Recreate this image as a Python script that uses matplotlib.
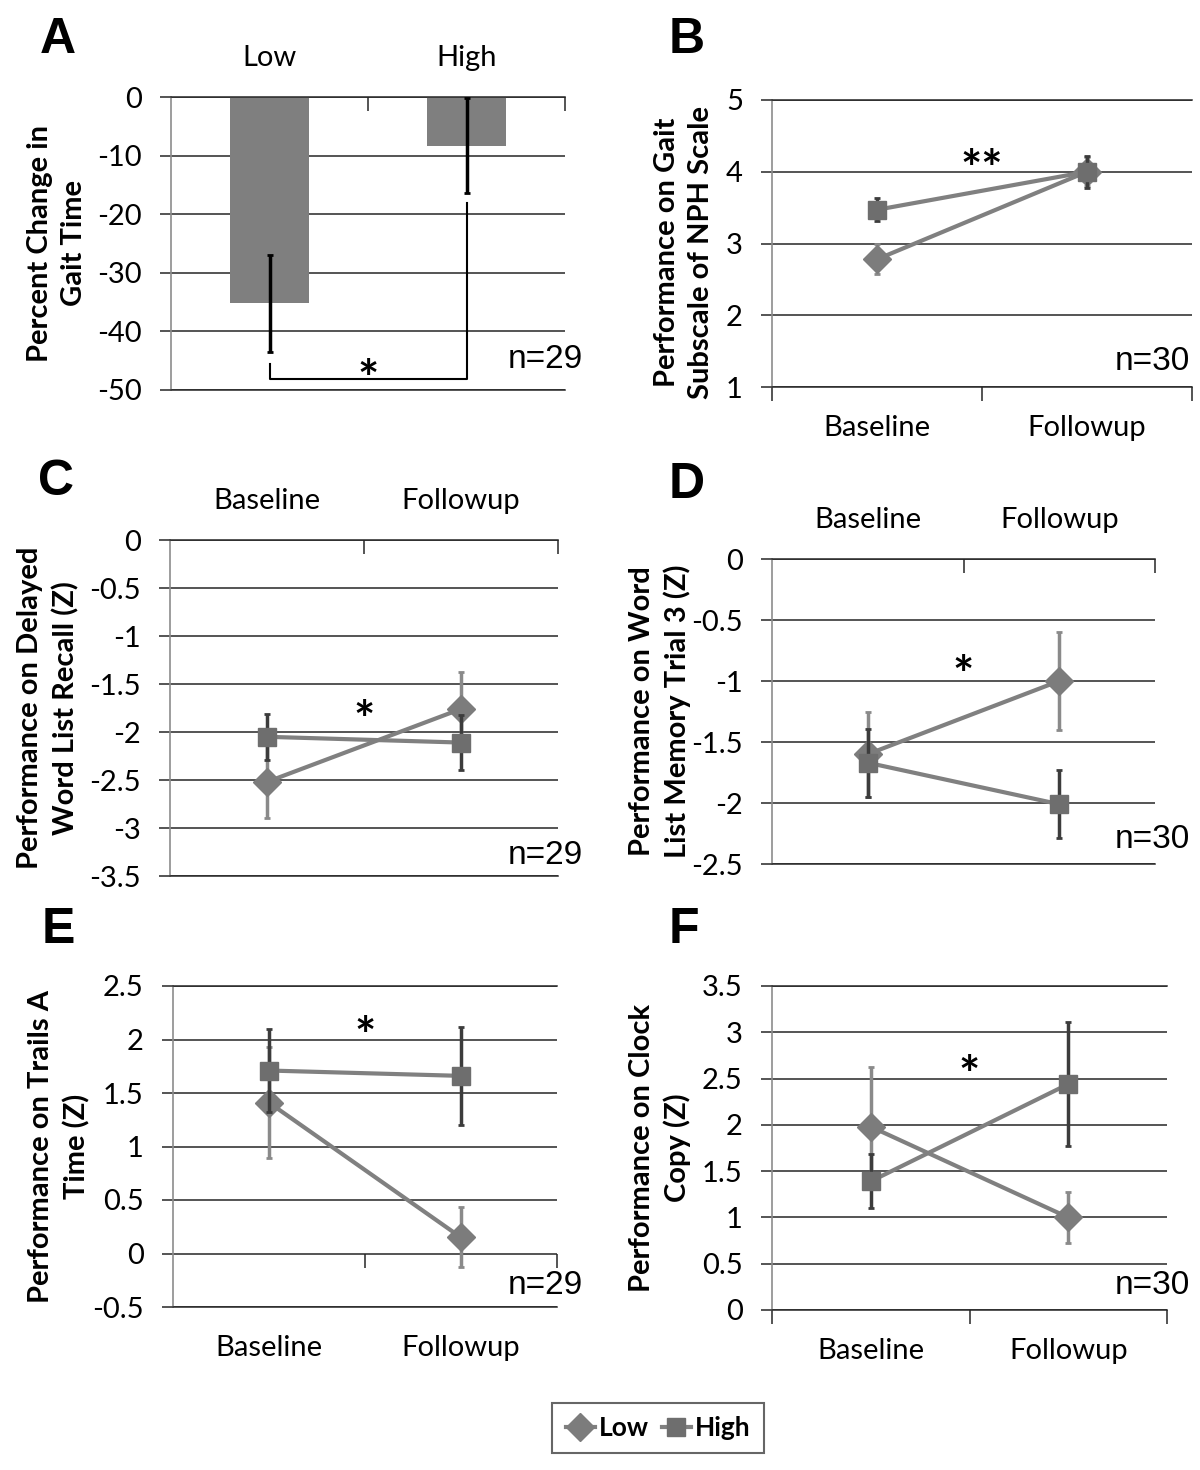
import numpy as np
import matplotlib.pyplot as plt
from matplotlib.lines import Line2D

plt.rcParams['font.family'] = ['Lato', 'DejaVu Sans']

# ---- data ----
groups = ['Low', 'High']
timepoints = ['Baseline', 'Followup']

# A: percent change in gait time (bar chart)
gait_change = [-35.2, -8.3]
gait_err = [8.3, 8.1]

# B: gait subscale of NPH scale
nph_low = [2.78, 4.0]
nph_low_err = [0.21, 0.2]
nph_high = [3.47, 4.0]
nph_high_err = [0.16, 0.22]

# C: delayed word list recall (Z)
recall_low = [-2.52, -1.76]
recall_low_err = [0.38, 0.38]
recall_high = [-2.05, -2.11]
recall_high_err = [0.24, 0.29]

# D: word list memory trial 3 (Z)
memory_low = [-1.6, -1.0]
memory_low_err = [0.35, 0.4]
memory_high = [-1.67, -2.01]
memory_high_err = [0.28, 0.28]

# E: trails A time (Z)
trails_low = [1.41, 0.15]
trails_low_err = [0.52, 0.28]
trails_high = [1.71, 1.66]
trails_high_err = [0.39, 0.46]

# F: clock copy (Z)
clock_low = [1.98, 1.0]
clock_low_err = [0.64, 0.28]
clock_high = [1.39, 2.44]
clock_high_err = [0.29, 0.67]

W, H = 1200, 1470
fig = plt.figure(figsize=(12, 14.7), dpi=100)

grid_c = '#262626'
spine_c = '#8c8c8c'
line_c = '#808080'
low_mc = '#7c7c7c'
high_mc = '#6e6e6e'
low_ec = '#8a8a8a'
high_ec = '#3c3c3c'
tick_fs = 21
label_fs = 21


def px_axes(l, t, r, b):
    return fig.add_axes([l / W, 1 - b / H, (r - l) / W, (b - t) / H])


def base_style(ax, ylim, yticks, top_labels, cats, label):
    ax.set_ylim(*ylim)
    ax.set_yticks(yticks)
    ax.set_yticklabels([f'{v:g}' for v in yticks])
    ax.yaxis.grid(True, color=grid_c, lw=1.1)
    ax.set_axisbelow(True)
    ax.spines['right'].set_visible(False)
    ax.spines['left'].set_color(spine_c)
    ax.spines['left'].set_linewidth(1.2)
    for s in ['top', 'bottom']:
        ax.spines[s].set_color(grid_c)
        ax.spines[s].set_linewidth(1.1)
    ax.tick_params(axis='y', direction='out', length=8, width=1.1, color=grid_c,
                   labelsize=tick_fs, pad=13)
    ax.set_xlim(0, 2)
    ax.set_xticks([1, 2])
    ax.set_xticklabels([])
    ax.set_xticks([0.5, 1.5], minor=True)
    ax.set_xticklabels(cats, minor=True)
    if top_labels:
        ax.tick_params(axis='x', which='major', top=True, bottom=False, direction='in',
                       length=10, width=1.1, color=grid_c)
        ax.tick_params(axis='x', which='minor', top=True, bottom=False, labeltop=True,
                       labelbottom=False, length=0, pad=19, labelsize=tick_fs)
    else:
        ax.tick_params(axis='x', which='major', direction='out', length=10, width=1.1,
                       color=grid_c)
        ax.tick_params(axis='x', which='minor', length=0, pad=20, labelsize=tick_fs)
    ax.set_ylabel(label, fontsize=label_fs, fontweight='bold', va='center',
                  linespacing=1.4)


def draw_series(ax, low, low_err, high, high_err):
    x = np.array([0.5, 1.5])
    ax.errorbar(x, low, yerr=low_err, fmt='none', ecolor=low_ec, elinewidth=2.5,
                capsize=2, capthick=2, zorder=3)
    ax.plot(x, low, color=line_c, lw=3, marker='D', ms=14, mfc=low_mc, mec=low_mc,
            zorder=4)
    ax.errorbar(x, high, yerr=high_err, fmt='none', ecolor=high_ec, elinewidth=2.5,
                capsize=2, capthick=2, zorder=5)
    ax.plot(x, high, color=line_c, lw=3, marker='s', ms=13, mfc=high_mc, mec=high_mc,
            zorder=6)


def star(ax, y, txt='*'):
    # y is the visual centre of the asterisk
    ax.annotate(txt, xy=(1.0, y), xytext=(0, -21), textcoords='offset points',
                ha='center', va='baseline', fontsize=36, fontweight='bold')


# ---- A ----
axA = px_axes(171, 97, 565, 390)
base_style(axA, (-50, 0), list(range(-50, 1, 10)), True, groups,
           'Percent Change in\nGait Time')
axA.bar([0.5, 1.5], gait_change, width=0.4, color='#7f7f7f', zorder=2)
axA.errorbar([0.5, 1.5], gait_change, yerr=gait_err, fmt='none', ecolor='black',
             elinewidth=2.5, capsize=2, capthick=2, zorder=3)
# significance bracket
axA.plot([0.5, 0.5, 1.5, 1.5], [-45.6, -48.2, -48.2, -18.1], color='black', lw=1.5,
         zorder=3)
star(axA, -46.1)
axA.yaxis.set_label_coords((57 - 171) / 394, 0.5)

# ---- B ----
axB = px_axes(772, 100, 1192, 387)
base_style(axB, (1, 5), [1, 2, 3, 4, 5], False, timepoints,
           'Performance on Gait\nSubscale of NPH Scale')
axB.set_xticks([0, 1, 2])
axB.set_xticklabels([])
draw_series(axB, nph_low, nph_low_err, nph_high, nph_high_err)
star(axB, 4.21, '**')
axB.yaxis.set_label_coords((684 - 772) / 420, 0.47)

# ---- C ----
axC = px_axes(170, 540, 558, 876)
base_style(axC, (-3.5, 0), [-3.5, -3, -2.5, -2, -1.5, -1, -0.5, 0], True, timepoints,
           'Performance on Delayed\nWord List Recall (Z)')
draw_series(axC, recall_low, recall_low_err, recall_high, recall_high_err)
star(axC, -1.75)
axC.yaxis.set_label_coords((48 - 170) / 388, 0.5)

# ---- D ----
axD = px_axes(772, 559, 1155, 864)
base_style(axD, (-2.5, 0), [-2.5, -2, -1.5, -1, -0.5, 0], True, timepoints,
           'Performance on Word\nList Memory Trial 3 (Z)')
draw_series(axD, memory_low, memory_low_err, memory_high, memory_high_err)
star(axD, -0.85)
axD.yaxis.set_label_coords((660 - 772) / 383, 0.5)

# ---- E ----
axE = px_axes(173, 986, 557, 1307)
base_style(axE, (-0.5, 2.5), [-0.5, 0, 0.5, 1, 1.5, 2, 2.5], False, timepoints,
           'Performance on Trails A\nTime (Z)')
axE.tick_params(axis='x', which='major', length=0)
sec = axE.secondary_xaxis(0.5 / 3.0)
sec.set_xticks([1, 2])
sec.set_xticklabels([])
sec.tick_params(direction='out', length=10, width=1.1, color=grid_c)
sec.spines['bottom'].set_visible(False)
draw_series(axE, trails_low, trails_low_err, trails_high, trails_high_err)
star(axE, 2.15)
axE.yaxis.set_label_coords((59 - 173) / 384, 0.5)

# ---- F ----
axF = px_axes(772, 986, 1167, 1310)
base_style(axF, (0, 3.5), [0, 0.5, 1, 1.5, 2, 2.5, 3, 3.5], False, timepoints,
           'Performance on Clock\nCopy (Z)')
axF.set_xticks([0, 1, 2])
axF.set_xticklabels([])
draw_series(axF, clock_low, clock_low_err, clock_high, clock_high_err)
star(axF, 2.67)
axF.yaxis.set_label_coords((660 - 772) / 395, 0.5)

# panel letters
letters = [('A', 40, 40), ('B', 669, 40), ('C', 38, 482), ('D', 669, 485),
           ('E', 42, 930), ('F', 669, 930)]
for txt, x, y in letters:
    fig.text(x / W, 1 - y / H, txt, ha='left', va='center', fontsize=36,
             fontweight='bold', family='Liberation Sans')

# sample sizes
ns = [('n=29', 583, 360), ('n=30', 1190, 362), ('n=29', 583, 855),
      ('n=30', 1190, 840), ('n=29', 583, 1285), ('n=30', 1190, 1285)]
for txt, x, y in ns:
    fig.text(x / W, 1 - y / H, txt, ha='right', va='center', fontsize=24,
             family='Liberation Sans')

# legend
handles = [
    Line2D([], [], color=line_c, lw=3, marker='D', ms=14, mfc=low_mc, mec=low_mc),
    Line2D([], [], color=line_c, lw=3, marker='s', ms=13, mfc=high_mc, mec=high_mc),
]
leg = fig.legend(handles, groups, loc='center', bbox_to_anchor=(658 / W, 1 - 1428 / H),
                 ncol=2, frameon=True, fancybox=False, handlelength=1.1,
                 handletextpad=0.15, columnspacing=0.5, borderpad=0.5,
                 prop={'weight': 'bold', 'size': 19})
leg.get_frame().set_edgecolor('#404040')
leg.get_frame().set_linewidth(1.5)

fig.savefig('out.png', dpi=100, facecolor='white')
